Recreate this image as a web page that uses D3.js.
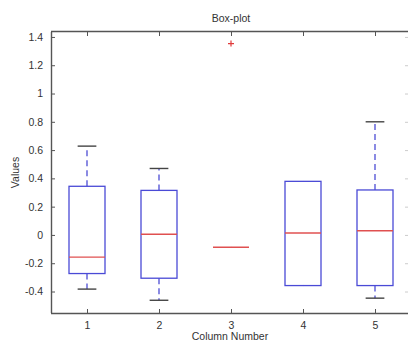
<!DOCTYPE html>
<html>
<head>
<meta charset="utf-8">
<script src="https://cdn.jsdelivr.net/npm/d3@7"></script>
<style>
  html, body { margin: 0; padding: 0; background: #fff; }
  svg { display: block; font-family: "Liberation Sans", Arial, sans-serif; }
</style>
</head>
<body>
<svg id="chart" width="408" height="341"></svg>
<script>
// Box-plot summary statistics, one entry per column
const columns   = [1, 2, 3, 4, 5];
const lowWhisk  = [-0.383, -0.462, -0.087, -0.358, -0.447];
const q1        = [-0.273, -0.306, -0.087, -0.358, -0.358];
const medians   = [-0.157,  0.005, -0.087,  0.014,  0.030];
const q3        = [ 0.344,  0.315, -0.087,  0.379,  0.318];
const highWhisk = [ 0.628,  0.470, -0.087,  0.379,  0.800];
const outliers  = [[], [], [1.353], [], []];

const yTicks = [-0.4, -0.2, 0, 0.2, 0.4, 0.6, 0.8, 1, 1.2, 1.4];
const xTicks = [1, 2, 3, 4, 5];

const svg = d3.select("#chart");
const plotL = 51, plotR = 411, plotT = 32, plotB = 313;

const x = d3.scaleLinear().domain([0.5, 5.5]).range([plotL, plotR]);
const y = d3.scaleLinear().domain([-0.552, 1.435]).range([plotB, plotT]);

const axisColor = "#555";
const textColor = "#333";
const fontFam = '"Liberation Sans", Arial, sans-serif';

// axes with inward-pointing ticks
const gL = svg.append("g").attr("transform", `translate(${plotL},0)`)
  .call(d3.axisLeft(y).tickValues(yTicks).tickSize(-4).tickPadding(8)
        .tickFormat(d => String(+d.toFixed(1))));
const gB = svg.append("g").attr("transform", `translate(0,${plotB})`)
  .call(d3.axisBottom(x).tickValues(xTicks).tickSize(-4).tickPadding(9)
        .tickFormat(d3.format("d")));
const gT = svg.append("g").attr("transform", `translate(0,${plotT})`)
  .call(d3.axisTop(x).tickValues(xTicks).tickSize(-4).tickFormat(""));
const gR = svg.append("g").attr("transform", `translate(${plotR - 2},0)`)
  .call(d3.axisRight(y).tickValues(yTicks).tickSize(-4).tickFormat(""));

[gL, gB, gT].forEach(g => {
  g.select(".domain").attr("stroke", axisColor).attr("stroke-width", 1.4);
  g.selectAll(".tick line").attr("stroke", axisColor);
  g.selectAll(".tick text").attr("fill", textColor)
    .style("font-family", fontFam)
    .style("font-size", "10.5px");
});
gR.select(".domain").attr("stroke", "#ddd");
gR.selectAll(".tick line").attr("stroke", "#ccc");
// plain frame lines without the outer end ticks
gL.select(".domain").attr("d", `M0.5,${plotB}V${plotT}`);
gB.select(".domain").attr("d", `M${plotL},0.5H${plotR}`);
gT.select(".domain").attr("d", `M${plotL},-0.5H${plotR}`);
gR.select(".domain").attr("d", `M0.5,${plotT}V${plotB}`);

const boxW = 0.5;   // box width in column units
const capW = 0.26;  // whisker cap width

const g = svg.append("g");
columns.forEach((c, i) => {
  const cx = x(c);
  const hw = x(c + boxW / 2) - x(c);
  const cw = x(c + capW / 2) - x(c);
  // dashed whiskers
  g.append("line").attr("x1", cx).attr("x2", cx)
    .attr("y1", y(q3[i])).attr("y2", y(highWhisk[i]))
    .attr("stroke", "#5a5ad8").attr("stroke-width", 1.4).attr("stroke-dasharray", "6,4");
  g.append("line").attr("x1", cx).attr("x2", cx)
    .attr("y1", y(q1[i])).attr("y2", y(lowWhisk[i]))
    .attr("stroke", "#5a5ad8").attr("stroke-width", 1.4).attr("stroke-dasharray", "6,4");
  // caps, only where the whisker reaches beyond the box
  [[highWhisk[i], q3[i]], [lowWhisk[i], q1[i]]].forEach(([v, edge]) => {
    if (v === edge) return;
    g.append("line").attr("x1", cx - cw).attr("x2", cx + cw)
      .attr("y1", y(v)).attr("y2", y(v))
      .attr("stroke", "#444").attr("stroke-width", 1.4);
  });
  // box
  if (q3[i] > q1[i]) {
    g.append("rect").attr("x", cx - hw).attr("y", y(q3[i]))
      .attr("width", 2 * hw).attr("height", y(q1[i]) - y(q3[i]))
      .attr("fill", "none").attr("stroke", "#4a4ad6").attr("stroke-width", 1.3);
  }
  // median
  g.append("line").attr("x1", cx - hw).attr("x2", cx + hw)
    .attr("y1", y(medians[i])).attr("y2", y(medians[i]))
    .attr("stroke", "#e05050").attr("stroke-width", 1.4);
  // outliers
  outliers[i].forEach(v => {
    const oy = y(v);
    g.append("path").attr("d", `M${cx - 3},${oy}H${cx + 3}M${cx},${oy - 3}V${oy + 3}`)
      .attr("stroke", "#e03a3a").attr("stroke-width", 1.2).attr("fill", "none");
  });
});

// titles
svg.append("text").attr("x", (plotL + plotR) / 2).attr("y", 22)
  .attr("text-anchor", "middle").attr("fill", textColor)
  .style("font-size", "10.5px").text("Box-plot");
svg.append("text").attr("x", (plotL + plotR) / 2 - 1).attr("y", 340)
  .attr("text-anchor", "middle").attr("fill", textColor)
  .style("font-size", "10.5px").text("Column Number");
svg.append("text").attr("transform", `translate(19,${(plotT + plotB) / 2}) rotate(-90)`)
  .attr("text-anchor", "middle").attr("fill", textColor)
  .style("font-size", "10.5px").text("Values");
</script>
</body>
</html>
